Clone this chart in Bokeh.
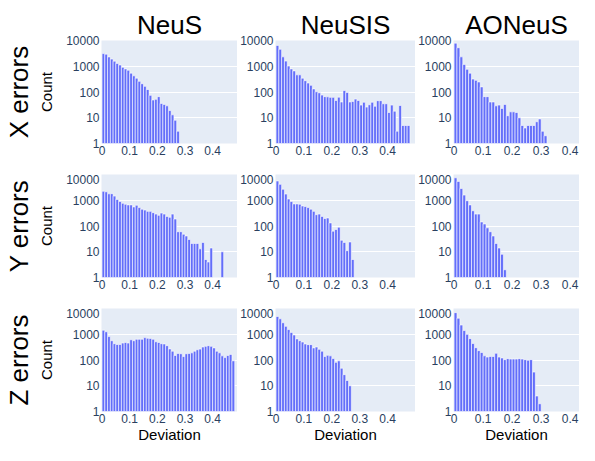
from bokeh.plotting import figure
from bokeh.layouts import column, row
from bokeh.models import FixedTicker, Title, Range1d
from bokeh.embed import file_html
from bokeh.resources import INLINE

# ---- data: histogram counts per 0.01-wide deviation bin, starting at 0 ----
bin_width = 0.01
methods = ["NeuS", "NeuSIS", "AONeuS"]
row_names = ["X errors", "Y errors", "Z errors"]

neus_x = [3100, 2950, 2300, 1900, 1580, 1290, 1120, 910, 790, 700, 540, 425, 345, 260,
          210, 166, 125, 74, 49, 52, 66, 36, 33, 29, 19, 13, 8, 3]
neusis_x = [6450, 4550, 2320, 1590, 1020, 790, 660, 465, 465, 345, 275, 223, 182, 132,
            102, 93, 76, 66, 65, 62, 62, 47, 63, 41, 114, 96, 41, 43, 53, 47, 31, 40,
            26, 32, 40, 28, 46, 46, 35, 35, 16, 31, 18, 3, 30, 5, 5, 5]
aoneus_x = [7900, 5250, 2320, 1180, 765, 540, 318, 283, 245, 158, 66, 66, 41, 41, 29, 31,
            23, 33, 12, 17, 17, 16, 10, 5, 4, 5, 5, 5, 7, 9, 3, 2]

neus_y = [2240, 2130, 1780, 1800, 1450, 1080, 890, 760, 700, 660, 660, 550, 640, 520, 450,
          415, 370, 370, 330, 290, 260, 318, 290, 236, 218, 290, 187, 60, 60, 48, 41, 30,
          21, 21, 21, 13, 23, 5, 4, 14, 0, 0, 0, 10]
neusis_y = [5600, 4150, 2680, 1740, 1120, 890, 720, 720, 700, 600, 570, 520, 450, 370, 275,
            290, 236, 195, 205, 132, 63, 73, 90, 28, 23, 11, 24, 5]
aoneus_y = [7450, 5400, 2850, 1590, 960, 660, 390, 290, 290, 144, 120, 85, 60, 41, 21, 14, 8, 2]

neus_z = [1440, 1250, 810, 560, 430, 400, 400, 455, 480, 455,
          610, 560, 640, 640, 640, 740, 700, 690, 640, 510,
          480, 430, 420, 360, 270, 220, 150, 180, 175, 136,
          175, 180, 190, 220, 250, 265, 320, 340, 360, 340,
          295, 220, 190, 145, 124, 150, 165, 93]
neusis_z = [4900, 3980, 2800, 2030, 1520, 1180, 940, 660, 560, 500, 420, 395, 395, 295, 320,
            260, 220, 136, 152, 145, 114, 81, 93, 48, 27, 16, 10]
aoneus_z = [6900, 4200, 2280, 1390, 990, 675, 435, 300, 230, 195, 145, 130, 137, 137, 183,
            130, 120, 103, 113, 109, 109, 109, 113, 109, 103, 98, 103, 34, 4, 2]

grid_data = [[neus_x, neusis_x, aoneus_x],
             [neus_y, neusis_y, aoneus_y],
             [neus_z, neusis_z, aoneus_z]]

x_ticks = [0, 0.1, 0.2, 0.3, 0.4]
x_tick_labels = ["0", "0.1", "0.2", "0.3", "0.4"]
y_ticks = [1, 10, 100, 1000, 10000]
y_tick_labels = ["1", "10", "100", "1000", "10000"]

# ---- styling / layout ----
FONT = "Liberation Sans"
BAR = "#636EFA"
BG = "#E5ECF6"
TICK_COLOR = "#2a3f5f"
col_widths = [237, 178, 164]
col_left = [98, 34, 35]
x_ends = [0.49, 0.50, 0.432]
row_heights = [174, 134, 137]
row_top = [40, 0, 0]
row_bottom = [31, 31, 34]


def make(r, c):
    data = grid_data[r][c]
    lefts = [i * bin_width for i, v in enumerate(data) if v > 0]
    rights = [(i + 1) * bin_width for i, v in enumerate(data) if v > 0]
    tops = [v for v in data if v > 0]
    p = figure(width=col_widths[c], height=row_heights[r], y_axis_type="log",
               x_range=Range1d(-0.002, x_ends[c]), y_range=Range1d(1, 10000),
               output_backend="svg", toolbar_location=None,
               min_border_left=col_left[c], min_border_right=0,
               min_border_top=row_top[r], min_border_bottom=row_bottom[r])
    p.quad(left=lefts, right=rights, bottom=1, top=tops, fill_color=BAR,
           line_color="white", line_width=0.6)
    p.background_fill_color = BG
    p.border_fill_color = "white"
    p.outline_line_color = None
    p.xgrid.visible = False
    p.ygrid.grid_line_color = "white"
    p.ygrid.grid_line_width = 1
    p.ygrid.minor_grid_line_color = None

    p.xaxis.ticker = FixedTicker(ticks=x_ticks)
    p.xaxis.major_label_overrides = dict(zip(x_ticks, x_tick_labels))
    p.yaxis.ticker = FixedTicker(ticks=y_ticks)
    p.yaxis.major_label_overrides = dict(zip(y_ticks, y_tick_labels))
    for ax in (p.xaxis[0], p.yaxis[0]):
        ax.axis_line_color = None
        ax.major_tick_line_color = None
        ax.minor_tick_line_color = None
        ax.major_label_text_font = FONT
        ax.major_label_text_font_size = "12px"
        ax.major_label_text_color = TICK_COLOR
        ax.major_label_standoff = 2
        ax.major_tick_out = 0
        ax.major_tick_in = 0

    if r == 0:
        p.title.text = methods[c]
        p.title.align = "center"
        p.title.text_font = FONT
        p.title.text_font_size = "26px"
        p.title.text_font_style = "normal"
        p.title.text_color = "black"
        p.title.standoff = 1
    if c == 0:
        p.yaxis.axis_label = "Count"
        p.yaxis.axis_label_text_font = FONT
        p.yaxis.axis_label_text_font_size = "15px"
        p.yaxis.axis_label_text_font_style = "normal"
        p.yaxis.axis_label_text_color = "black"
        p.yaxis.axis_label_standoff = 8
        p.add_layout(Title(text=row_names[r], align="center", text_font=FONT,
                           text_font_size="26px", text_font_style="normal",
                           text_color="black", standoff=3), "left")
    if r == 2:
        p.xaxis.axis_label = "Deviation"
        p.xaxis.axis_label_text_font = FONT
        p.xaxis.axis_label_text_font_size = "15px"
        p.xaxis.axis_label_text_font_style = "normal"
        p.xaxis.axis_label_text_color = "black"
        p.xaxis.axis_label_standoff = 0
    return p


rows = [row(*[make(r, c) for c in range(3)], spacing=0) for r in range(3)]
layout = column(*rows, spacing=0)

open("out.html", "w").write(file_html(layout, INLINE))
